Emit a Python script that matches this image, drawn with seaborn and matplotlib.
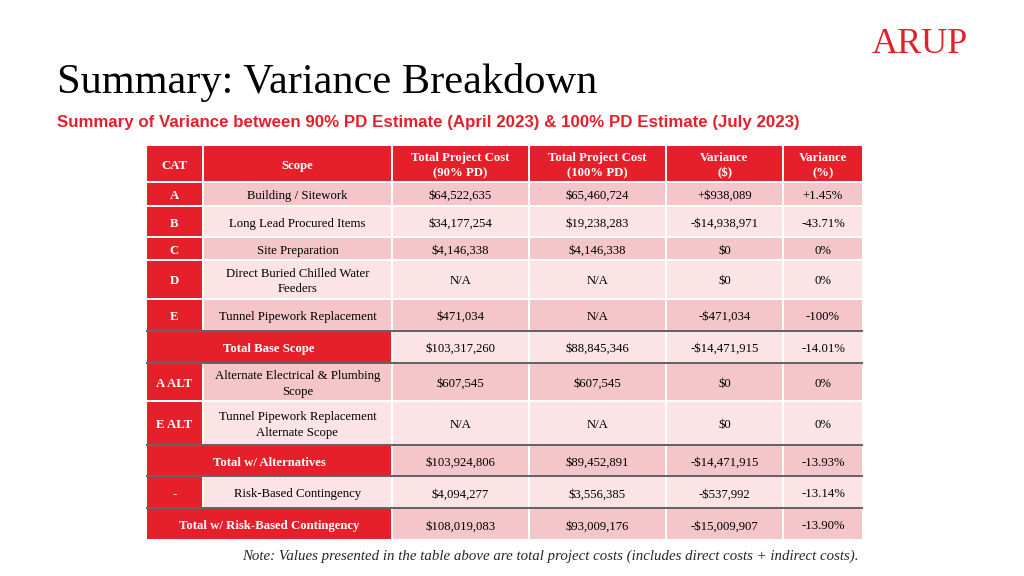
import seaborn as sns
import matplotlib.pyplot as plt
import pandas as pd

# table content
headers = ["CAT", "Scope", "Total Project Cost\n(90% PD)", "Total Project Cost\n(100% PD)",
           "Variance\n($)", "Variance\n(%)"]
cats = ["A", "B", "C", "D", "E", "", "A ALT", "E ALT", "", "-", ""]
scopes = ["Building / Sitework", "Long Lead Procured Items", "Site Preparation",
          "Direct Buried Chilled Water\nFeeders", "Tunnel Pipework Replacement",
          "Total Base Scope", "Alternate Electrical & Plumbing\nScope",
          "Tunnel Pipework Replacement\nAlternate Scope", "Total w/ Alternatives",
          "Risk-Based Contingency", "Total w/ Risk-Based Contingency"]
is_total = [False, False, False, False, False, True, False, False, True, False, True]
cost_90 = ["$64,522,635", "$34,177,254", "$4,146,338", "N/A", "$471,034", "$103,317,260",
           "$607,545", "N/A", "$103,924,806", "$4,094,277", "$108,019,083"]
cost_100 = ["$65,460,724", "$19,238,283", "$4,146,338", "N/A", "N/A", "$88,845,346",
            "$607,545", "N/A", "$89,452,891", "$3,556,385", "$93,009,176"]
var_usd = ["+$938,089", "-$14,938,971", "$0", "$0", "-$471,034", "-$14,471,915",
           "$0", "$0", "-$14,471,915", "-$537,992", "-$15,009,907"]
var_pct = ["+1.45%", "-43.71%", "0%", "0%", "-100%", "-14.01%",
           "0%", "0%", "-13.93%", "-13.14%", "-13.90%"]

df = pd.DataFrame({"cat": cats, "scope": scopes, "total": is_total, "c90": cost_90,
                   "c100": cost_100, "vusd": var_usd, "vpct": var_pct})

# layout in pixels
col_edges = [146, 203, 392, 529, 666, 783, 863]
table_top = 144.5
row_heights = [37.5, 23.5, 31.5, 22.5, 39, 32.5, 31.5, 38.5, 43.5, 31.5, 32, 32]
dark_after = [4, 5, 7, 8, 9]  # body rows followed by a dark rule
line_gap = 15.5

RED = "#e5202a"
PINK_DARK = "#f4c6ca"
PINK_LIGHT = "#fbe3e6"
SERIF = "Liberation Serif"

sns.set_theme(style="white")
plt.rcParams['font.family'] = [SERIF, 'DejaVu Sans']

fig = plt.figure(figsize=(10.24, 5.76), dpi=100)
ax = fig.add_axes([0, 0, 1, 1])
ax.set_xlim(0, 1024)
ax.set_ylim(576, 0)
ax.axis("off")

row_tops = [table_top]
for h in row_heights:
    row_tops.append(row_tops[-1] + h)

gap = 1.0


def cell(c0, c1, r, color, text, bold=False, tcolor="black"):
    x0, x1 = col_edges[c0], col_edges[c1]
    y0, y1 = row_tops[r], row_tops[r + 1]
    ax.bar(x0 + gap, y1 - y0 - 2 * gap, width=x1 - x0 - 2 * gap, bottom=y0 + gap,
           align="edge", color=color, linewidth=0)
    if not text:
        return
    lines = text.split("\n")
    n = len(lines)
    for k, line in enumerate(lines):
        yb = (y0 + y1) / 2 + 5.3 + (k - (n - 1) / 2) * line_gap
        ax.text((x0 + x1) / 2, yb, line, ha="center", va="baseline",
                fontsize=9.2, color=tcolor, fontweight="bold" if bold else "normal")


# header
for j, h in enumerate(headers):
    cell(j, j + 1, 0, RED, h, bold=True, tcolor="white")

# body
for i, row in df.iterrows():
    r = i + 1
    shade = PINK_DARK if i % 2 == 0 else PINK_LIGHT
    if row["total"]:
        cell(0, 2, r, RED, row["scope"], bold=True, tcolor="white")
    else:
        cell(0, 1, r, RED, row["cat"], bold=True, tcolor="white")
        cell(1, 2, r, shade, row["scope"])
    for j, key in enumerate(["c90", "c100", "vusd", "vpct"]):
        cell(j + 2, j + 3, r, shade, row[key])

for i in dark_after:
    ax.hlines(row_tops[i + 2], col_edges[0], col_edges[-1], color="#454545", linewidth=1.2)

# titles
ax.text(57, 93, "Summary: Variance Breakdown", fontsize=30.5, color="black",
        ha="left", va="baseline", family=SERIF)
ax.text(57, 126.5, "Summary of Variance between 90% PD Estimate (April 2023) & 100% PD Estimate (July 2023)",
        fontsize=12.2, color=RED, fontweight="bold", ha="left", va="baseline",
        family="Liberation Sans")
ax.text(920, 53, "ARUP", fontsize=26, color=RED, ha="center", va="baseline", family=SERIF)
ax.text(550, 560, "Note: Values presented in the table above are total project costs "
        "(includes direct costs + indirect costs).",
        fontsize=10.7, style="italic", ha="center", va="baseline", family=SERIF)

fig.savefig("out.png", dpi=100)
